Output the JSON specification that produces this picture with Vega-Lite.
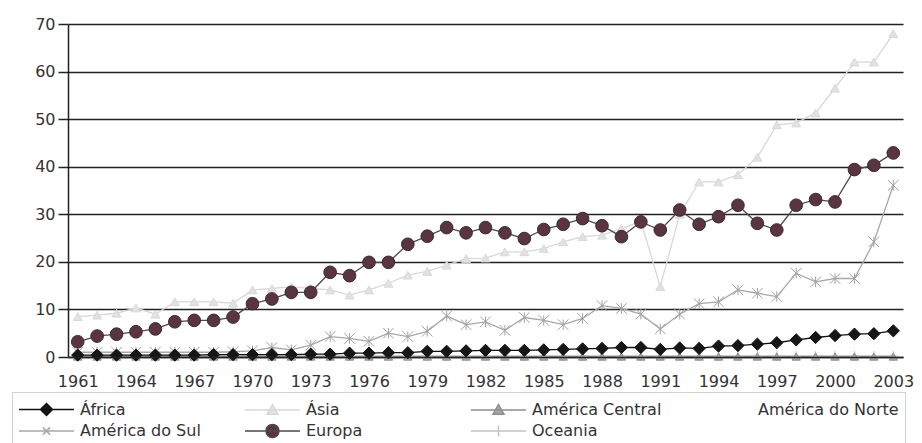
{
  "$schema": "https://vega.github.io/schema/vega-lite/v6.json",
  "width": 835,
  "height": 333,
  "autosize": "none",
  "padding": {"left": 68, "top": 24, "right": 19, "bottom": 86},
  "background": "white",
  "config": {"view": {"stroke": null}, "font": "DejaVu Sans"},
  "data": {"values": [
    {"ano":1961,"África":0.4,"Ásia":8.5,"América Central":0.1,"América do Norte":0,"América do Sul":1.0,"Europa":3.2,"Oceania":0.2},
    {"ano":1962,"África":0.4,"Ásia":8.8,"América Central":0.1,"América do Norte":0,"América do Sul":1.0,"Europa":4.4,"Oceania":0.2},
    {"ano":1963,"África":0.4,"Ásia":9.2,"América Central":0.1,"América do Norte":0,"América do Sul":1.0,"Europa":4.8,"Oceania":0.2},
    {"ano":1964,"África":0.4,"Ásia":10.3,"América Central":0.1,"América do Norte":0,"América do Sul":1.0,"Europa":5.3,"Oceania":0.2},
    {"ano":1965,"África":0.4,"Ásia":9.0,"América Central":0.1,"América do Norte":0,"América do Sul":1.0,"Europa":5.9,"Oceania":0.2},
    {"ano":1966,"África":0.4,"Ásia":11.6,"América Central":0.1,"América do Norte":0,"América do Sul":1.0,"Europa":7.4,"Oceania":0.2},
    {"ano":1967,"África":0.4,"Ásia":11.6,"América Central":0.1,"América do Norte":0,"América do Sul":1.0,"Europa":7.7,"Oceania":0.2},
    {"ano":1968,"África":0.5,"Ásia":11.6,"América Central":0.1,"América do Norte":0,"América do Sul":1.0,"Europa":7.7,"Oceania":0.2},
    {"ano":1969,"África":0.5,"Ásia":11.3,"América Central":0.1,"América do Norte":0,"América do Sul":1.1,"Europa":8.4,"Oceania":0.2},
    {"ano":1970,"África":0.5,"Ásia":14.1,"América Central":0.1,"América do Norte":0,"América do Sul":1.3,"Europa":11.2,"Oceania":0.2},
    {"ano":1971,"África":0.5,"Ásia":14.4,"América Central":0.1,"América do Norte":0,"América do Sul":2.0,"Europa":12.2,"Oceania":0.2},
    {"ano":1972,"África":0.5,"Ásia":14.8,"América Central":0.1,"América do Norte":0,"América do Sul":1.5,"Europa":13.6,"Oceania":0.2},
    {"ano":1973,"África":0.6,"Ásia":14.4,"América Central":0.1,"América do Norte":0,"América do Sul":2.5,"Europa":13.6,"Oceania":0.2},
    {"ano":1974,"África":0.6,"Ásia":14.1,"América Central":0.1,"América do Norte":0,"América do Sul":4.3,"Europa":17.8,"Oceania":0.2},
    {"ano":1975,"África":0.8,"Ásia":13.0,"América Central":0.1,"América do Norte":0,"América do Sul":3.9,"Europa":17.1,"Oceania":0.2},
    {"ano":1976,"África":0.8,"Ásia":14.1,"América Central":0.1,"América do Norte":0,"América do Sul":3.3,"Europa":19.9,"Oceania":0.2},
    {"ano":1977,"África":0.9,"Ásia":15.5,"América Central":0.1,"América do Norte":0,"América do Sul":5.0,"Europa":19.9,"Oceania":0.2},
    {"ano":1978,"África":0.9,"Ásia":17.2,"América Central":0.1,"América do Norte":0,"América do Sul":4.3,"Europa":23.7,"Oceania":0.2},
    {"ano":1979,"África":1.2,"Ásia":18.0,"América Central":0.1,"América do Norte":0,"América do Sul":5.4,"Europa":25.4,"Oceania":0.2},
    {"ano":1980,"África":1.2,"Ásia":19.3,"América Central":0.1,"América do Norte":0,"América do Sul":8.6,"Europa":27.2,"Oceania":0.2},
    {"ano":1981,"África":1.3,"Ásia":20.7,"América Central":0.1,"América do Norte":0,"América do Sul":6.8,"Europa":26.1,"Oceania":0.2},
    {"ano":1982,"África":1.4,"Ásia":20.8,"América Central":0.1,"América do Norte":0,"América do Sul":7.4,"Europa":27.2,"Oceania":0.2},
    {"ano":1983,"África":1.4,"Ásia":22.1,"América Central":0.1,"América do Norte":0,"América do Sul":5.6,"Europa":26.1,"Oceania":0.2},
    {"ano":1984,"África":1.4,"Ásia":22.1,"América Central":0.1,"América do Norte":0,"América do Sul":8.3,"Europa":24.9,"Oceania":0.2},
    {"ano":1985,"África":1.5,"Ásia":22.8,"América Central":0.1,"América do Norte":0,"América do Sul":7.7,"Europa":26.8,"Oceania":0.2},
    {"ano":1986,"África":1.6,"Ásia":24.2,"América Central":0.1,"América do Norte":0,"América do Sul":6.8,"Europa":27.9,"Oceania":0.2},
    {"ano":1987,"África":1.7,"Ásia":25.3,"América Central":0.1,"América do Norte":0,"América do Sul":8.1,"Europa":29.1,"Oceania":0.2},
    {"ano":1988,"África":1.8,"Ásia":25.6,"América Central":0.1,"América do Norte":0,"América do Sul":10.8,"Europa":27.6,"Oceania":0.2},
    {"ano":1989,"África":2.0,"Ásia":27.0,"América Central":0.1,"América do Norte":0,"América do Sul":10.2,"Europa":25.3,"Oceania":0.2},
    {"ano":1990,"África":2.0,"Ásia":28.5,"América Central":0.1,"América do Norte":0,"América do Sul":9.0,"Europa":28.4,"Oceania":0.2},
    {"ano":1991,"África":1.6,"Ásia":14.8,"América Central":0.1,"América do Norte":0,"América do Sul":5.9,"Europa":26.7,"Oceania":0.2},
    {"ano":1992,"África":1.9,"Ásia":30.0,"América Central":0.1,"América do Norte":0,"América do Sul":9.0,"Europa":30.9,"Oceania":0.2},
    {"ano":1993,"África":1.8,"Ásia":36.8,"América Central":0.1,"América do Norte":0,"América do Sul":11.2,"Europa":27.9,"Oceania":0.2},
    {"ano":1994,"África":2.3,"Ásia":36.8,"América Central":0.1,"América do Norte":0,"América do Sul":11.6,"Europa":29.5,"Oceania":0.2},
    {"ano":1995,"África":2.4,"Ásia":38.3,"América Central":0.1,"América do Norte":0,"América do Sul":14.1,"Europa":31.9,"Oceania":0.2},
    {"ano":1996,"África":2.7,"Ásia":42.0,"América Central":0.1,"América do Norte":0,"América do Sul":13.4,"Europa":28.1,"Oceania":0.2},
    {"ano":1997,"África":3.0,"Ásia":48.8,"América Central":0.1,"América do Norte":0,"América do Sul":12.7,"Europa":26.7,"Oceania":0.2},
    {"ano":1998,"África":3.6,"Ásia":49.2,"América Central":0.1,"América do Norte":0,"América do Sul":17.6,"Europa":31.9,"Oceania":0.2},
    {"ano":1999,"África":4.1,"Ásia":51.3,"América Central":0.1,"América do Norte":0,"América do Sul":15.8,"Europa":33.1,"Oceania":0.2},
    {"ano":2000,"África":4.5,"Ásia":56.5,"América Central":0.1,"América do Norte":0,"América do Sul":16.5,"Europa":32.6,"Oceania":0.2},
    {"ano":2001,"África":4.8,"Ásia":62.0,"América Central":0.1,"América do Norte":0,"América do Sul":16.5,"Europa":39.4,"Oceania":0.2},
    {"ano":2002,"África":4.9,"Ásia":62.0,"América Central":0.1,"América do Norte":0,"América do Sul":24.2,"Europa":40.3,"Oceania":0.2},
    {"ano":2003,"África":5.5,"Ásia":68.0,"América Central":0.1,"América do Norte":0,"América do Sul":36.1,"Europa":42.9,"Oceania":0.2}
  ]},
  "transform": [
    {"fold": ["América do Norte","Oceania","América Central","Ásia","América do Sul","África","Europa"], "as": ["serie","valor"]}
  ],
  "encoding": {
    "x": {
      "field": "ano", "type": "ordinal",
      "axis": {
        "title": null, "labelAngle": 0,
        "values": [1961,1964,1967,1970,1973,1976,1979,1982,1985,1988,1991,1994,1997,2000,2003],
        "labelFont": "DejaVu Sans", "labelFontSize": 16, "labelColor": "#333333",
        "ticks": false, "tickSize": 0, "labelPadding": 16,
        "domainColor": "#222222", "domainWidth": 1.5, "grid": false, "zindex": 1
      }
    },
    "y": {
      "field": "valor", "type": "quantitative",
      "scale": {"domain": [0, 70], "nice": false},
      "axis": {
        "title": null, "values": [0,10,20,30,40,50,60,70],
        "labelFont": "DejaVu Sans", "labelFontSize": 16, "labelColor": "#333333",
        "tickSize": 10, "tickColor": "#222222", "tickWidth": 1.5, "labelPadding": 3,
        "domainColor": "#222222", "domainWidth": 1.5,
        "grid": true, "gridColor": "#222222", "gridWidth": 1.5
      }
    }
  },
  "layer": [
    {
      "mark": {"type": "line", "strokeWidth": 1.3},
      "encoding": {
        "stroke": {
          "field": "serie", "type": "nominal",
          "scale": {
            "domain": ["África","Ásia","América Central","América do Norte","América do Sul","Europa","Oceania"],
            "range": ["#111111","#d8d8d8","#8e8e8e","#ffffff","#a8a8a8","#4a4a4a","#c4c4c4"]
          },
          "legend": {
            "orient": "none", "legendX": -56, "legendY": 368,
            "columns": 4, "direction": "horizontal", "title": null,
            "gridAlign": "all",
            "symbolType": "stroke",
            "symbolSize": 400, "symbolStrokeWidth": 1.5,
            "labelFont": "DejaVu Sans", "labelFontSize": 16, "labelColor": "#333333",
            "labelOffset": 40, "labelLimit": 300, "columnPadding": 21, "rowPadding": 1,
            "padding": 6, "strokeColor": "#d0d0d0",
            "encode": {
              "symbols": {
                "update": {
                  "shape": {"signal": "datum.value==='África'?'M-1,0H4.5M1.75,-0.6L2.35,0L1.75,0.6L1.15,0Z':(datum.value==='Ásia'||datum.value==='América Central')?'M-1,0H4.5M1.75,-0.55L2.3,0.42L1.2,0.42Z':datum.value==='América do Sul'?'M-1,0H4.5M1.39,-0.36L2.11,0.36M1.39,0.36L2.11,-0.36':datum.value==='Europa'?'M-1,0H4.5M1.1,0A0.65,0.65 0 1,0 2.4,0A0.65,0.65 0 1,0 1.1,0Z':datum.value==='Oceania'?'M-1,0H4.5M1.75,-0.55V0.55':'M-1,0H4.5'"},
                  "fill": {"signal": "datum.value==='África'?'#161616':datum.value==='Ásia'?'#e2e2e2':datum.value==='América Central'?'#a5a5a5':datum.value==='Europa'?'#5a3441':'transparent'"}
                }
              }
            }
          }
        }
      }
    },
    {
      "transform": [{"filter": "datum.serie === 'Oceania'"}],
      "mark": {"type": "point", "shape": "M0,-1V1M-1,0H1", "size": 100, "filled": false, "stroke": "#c4c4c4", "strokeWidth": 1, "opacity": 1},
      "encoding": {}
    },
    {
      "transform": [{"filter": "datum.serie === 'América Central'"}],
      "mark": {"type": "point", "shape": "triangle-up", "size": 70, "filled": true, "fill": "#a5a5a5", "stroke": "#8e8e8e", "strokeWidth": 1, "opacity": 1},
      "encoding": {}
    },
    {
      "transform": [{"filter": "datum.serie === 'Ásia'"}],
      "mark": {"type": "point", "shape": "triangle-up", "size": 80, "filled": true, "fill": "#e2e2e2", "stroke": "#d8d8d8", "strokeWidth": 1, "opacity": 1},
      "encoding": {}
    },
    {
      "transform": [{"filter": "datum.serie === 'América do Sul'"}],
      "mark": {"type": "point", "shape": "M-1,-1L1,1M-1,1L1,-1M0,-1V1", "size": 110, "filled": false, "stroke": "#a0a0a0", "strokeWidth": 1, "opacity": 1},
      "encoding": {}
    },
    {
      "transform": [{"filter": "datum.serie === 'África'"}],
      "mark": {"type": "point", "shape": "diamond", "size": 150, "filled": true, "fill": "#161616", "stroke": "#111111", "strokeWidth": 1, "opacity": 1},
      "encoding": {}
    },
    {
      "transform": [{"filter": "datum.serie === 'Europa'"}],
      "mark": {"type": "point", "shape": "circle", "size": 160, "filled": true, "fill": "#5a3441", "stroke": "#3a2a30", "strokeWidth": 1, "opacity": 1},
      "encoding": {}
    }
  ]
}
